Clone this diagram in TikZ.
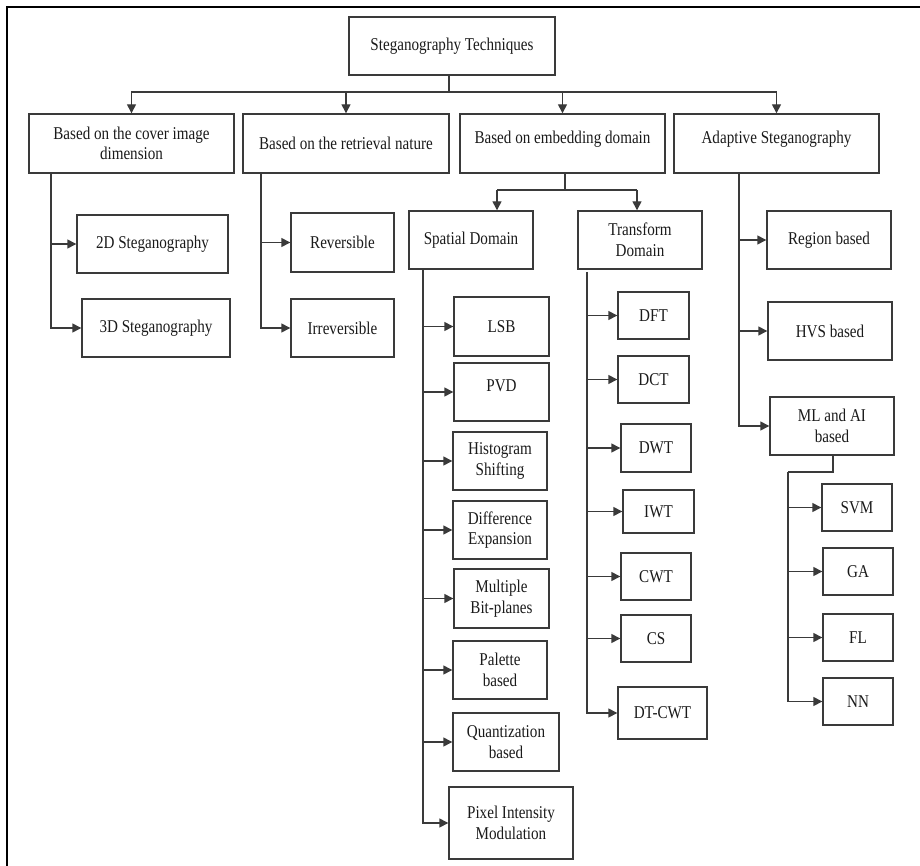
\documentclass[tikz,border=0pt]{standalone}
\usepackage{fontspec}
\setmainfont{Liberation Serif}[FakeStretch=0.84]
\usetikzlibrary{arrows.meta}
\definecolor{linegray}{HTML}{3A3A3A}
\definecolor{txt}{HTML}{1A1A1A}
\newcommand\mybox[6]{\node[box, minimum width=#4pt, minimum height=#5pt] (#1) at (#2,#3) {#6};}
\begin{document}
\begin{tikzpicture}[x=1pt,y=-1pt,
  font=\fontsize{18}{20.5}\selectfont,
  box/.style={draw=linegray, line width=1.4pt, inner sep=1pt, align=center, text=txt},
  conn/.style={draw=linegray, line width=1.4pt},
  arr/.style={conn, -{Triangle[length=9pt,width=9pt]}}]
\useasboundingbox (0,0) rectangle (920,866);
\draw[line width=2pt, black] (7,866) -- (7,7) -- (920,7);

% root and level 1
\mybox{root}{452}{46}{206}{58}{Steganography Techniques}
\mybox{b1}{131.5}{143.5}{205}{59}{Based on the cover image\\dimension}
\mybox{b2}{346}{143.5}{206}{59}{Based on the retrieval nature}
\mybox{b3}{562.5}{143.5}{205}{59}{\raisebox{12pt}{Based on embedding domain}}
\mybox{b4}{776.5}{143.5}{205}{59}{\raisebox{12pt}{Adaptive Steganography}}

% cover image dimension
\mybox{c2d}{152.5}{244}{151}{58}{2D Steganography}
\mybox{c3d}{156}{328}{148}{58}{3D Steganography}
% retrieval
\mybox{rev}{342.5}{242.5}{103}{59}{Reversible}
\mybox{irr}{342.5}{328}{103}{58}{Irreversible}

% embedding domain
\mybox{spat}{471}{240}{124}{58}{Spatial Domain}
\mybox{trans}{640}{240}{124}{58}{Transform\\Domain}

\mybox{lsb}{501.5}{326.5}{95}{59}{LSB}
\mybox{pvd}{501.5}{392}{95}{58}{\raisebox{12pt}{PVD}}
\mybox{hist}{500}{461}{94}{58}{Histogram\\Shifting}
\mybox{diff}{500}{530}{94}{58}{Difference\\Expansion}
\mybox{mult}{501.5}{598.5}{95}{59}{Multiple\\Bit-planes}
\mybox{pal}{500}{670}{94}{58}{Palette\\based}
\mybox{quant}{506}{742}{106}{58}{Quantization\\based}
\mybox{pix}{511}{823}{124}{72}{Pixel Intensity\\Modulation}

\mybox{dft}{653.5}{315.5}{71}{47}{DFT}
\mybox{dct}{653.5}{379.5}{71}{47}{DCT}
\mybox{dwt}{656}{448}{70}{48}{DWT}
\mybox{iwt}{658.5}{511.5}{71}{43}{IWT}
\mybox{cwt}{656}{576.5}{70}{47}{CWT}
\mybox{cs}{656}{638.5}{70}{47}{CS}
\mybox{dtcwt}{662.5}{713}{89}{52}{DT-CWT}

% adaptive
\mybox{reg}{829}{240}{124}{58}{Region based}
\mybox{hvs}{830}{331}{124}{58}{HVS based}
\mybox{ml}{832}{426}{124}{58}{ML and AI\\based}
\mybox{svm}{857}{507.5}{70}{47}{SVM}
\mybox{ga}{858}{571.5}{70}{47}{GA}
\mybox{fl}{858}{637.5}{70}{47}{FL}
\mybox{nn}{858}{701.5}{70}{47}{NN}

% root bus
\coordinate (rs) at (449,75);
\coordinate (bus) at (449,92);
\draw[conn] (rs) -- (bus);
\draw[arr] (bus) -| (b1.north);
\draw[arr] (bus) -| (b2.north);
\draw[arr] (bus) -| (b3.north);
\draw[arr] (bus) -| (b4.north);

% b1 children
\coordinate (s1) at (51,173);
\draw[arr] (s1) |- (c3d.west);
\draw[arr] (s1 |- c2d.west) -- (c2d.west);
% b2 children
\coordinate (s2) at (261,173);
\draw[arr] (s2) |- (irr.west);
\draw[arr] (s2 |- rev.west) -- (rev.west);

% b3 children
\coordinate (s3) at (565,173);
\coordinate (s3b) at (565,190);
\coordinate (j1) at (497,190);
\coordinate (j2) at (637,190);
\draw[conn] (s3) -- (s3b);
\draw[conn] (j1) -- (j2);
\draw[arr] (j1) -- (j1 |- spat.north);
\draw[arr] (j2) -- (j2 |- trans.north);

% spatial children
\coordinate (ss) at (423,269);
\draw[arr] (ss) |- (pix.west);
\foreach \n in {lsb,pvd,hist,diff,mult,pal,quant}
  \draw[arr] (ss |- \n.west) -- (\n.west);

% transform children
\coordinate (ts) at (587,272);
\draw[arr] (ts) |- (dtcwt.west);
\foreach \n in {dft,dct,dwt,iwt,cwt,cs}
  \draw[arr] (ts |- \n.west) -- (\n.west);

% adaptive children
\coordinate (s4) at (739,173);
\draw[arr] (s4) |- (ml.west);
\draw[arr] (s4 |- reg.west) -- (reg.west);
\draw[arr] (s4 |- hvs.west) -- (hvs.west);

% ml children
\coordinate (ms) at (833,455);
\coordinate (mk) at (833,472);
\coordinate (mv) at (788,472);
\draw[conn] (ms) -- (mk) -- (mv);
\draw[arr] (mv) |- (nn.west);
\foreach \n in {svm,ga,fl}
  \draw[arr] (mv |- \n.west) -- (\n.west);
\end{tikzpicture}
\end{document}
